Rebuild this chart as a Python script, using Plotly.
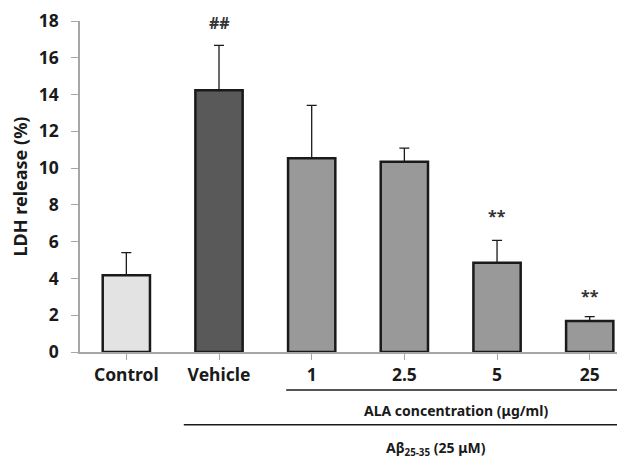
import plotly.graph_objects as go

categories = ["Control", "Vehicle", "1", "2.5", "5", "25"]
ldh_release = [4.17, 14.24, 10.53, 10.34, 4.85, 1.68]
ldh_error = [1.23, 2.43, 2.88, 0.75, 1.22, 0.24]
bar_colors = ["#e3e3e3", "#595959", "#999999", "#999999", "#999999", "#999999"]
significance = ["", "##", "", "", "**", "**"]
sig_y = [0, 17.9, 0, 0, 7.4, 3.05]
y_ticks = list(range(0, 19, 2))

FONT = "Noto Sans"

fig = go.Figure()
fig.add_trace(go.Bar(
    x=list(range(len(categories))),
    y=ldh_release,
    width=0.51,
    marker=dict(color=bar_colors, line=dict(color="#1a1a1a", width=2.5)),
    error_y=dict(type="data", array=ldh_error, arrayminus=[0] * len(ldh_error),
                 symmetric=False, color="#1a1a1a", thickness=1.3, width=5),
    showlegend=False,
))

for i, s in enumerate(significance):
    if s:
        fig.add_annotation(x=i, y=sig_y[i], text=f"<b>{s}</b>", showarrow=False,
                           font=dict(family=FONT, size=16, color="#333333"),
                           xref="x", yref="y")

# group labels below axis
fig.add_shape(type="line", xref="x", yref="paper", x0=1.725, x1=5.6, y0=-0.115, y1=-0.115,
              line=dict(color="#555555", width=2))
fig.add_annotation(x=3.56, y=-0.178, xref="x", yref="paper", showarrow=False, yanchor="middle",
                   text="<b>ALA concentration (μg/ml)</b>",
                   font=dict(family=FONT, size=14, color="#1a1a1a"))
fig.add_shape(type="line", xref="x", yref="paper", x0=0.62, x1=5.6, y0=-0.22, y1=-0.22,
              line=dict(color="#1a1a1a", width=1.5))
fig.add_annotation(x=3.34, y=-0.292, xref="x", yref="paper", showarrow=False, yanchor="middle",
                   text="<b>Aβ<sub>25-35</sub> (25 μM)</b>",
                   font=dict(family=FONT, size=14, color="#1a1a1a"))

fig.update_layout(
    width=625, height=459,
    margin=dict(l=72, r=0, t=13, b=115, autoexpand=False),
    plot_bgcolor="white", paper_bgcolor="white",
    font=dict(family=FONT, color="#1a1a1a"),
    xaxis=dict(
        range=[-0.5, 5.467], automargin=False,
        tickmode="array", tickvals=list(range(len(categories))),
        ticktext=[f"<b>{c}</b>" for c in categories],
        tickfont=dict(family=FONT, size=17.5, color="#1a1a1a"),
        showline=True, linecolor="#a6a6a6", linewidth=1.5,
        ticks="outside", tickson="boundaries", ticklen=6, tickcolor="#a6a6a6",
        showgrid=False, zeroline=False,
    ),
    yaxis=dict(
        range=[0, 18], automargin=False,
        tickmode="array", tickvals=y_ticks,
        ticktext=[f"<b>{v}</b>" for v in y_ticks],
        tickfont=dict(family=FONT, size=17.5, color="#1a1a1a"),
        ticklabelstandoff=9,
        showline=True, linecolor="#a6a6a6", linewidth=1.5,
        ticks="outside", ticklen=7, tickcolor="#a6a6a6",
        showgrid=False, zeroline=False,
        title=dict(text="<b>LDH release (%)</b>", font=dict(family=FONT, size=18, color="#1a1a1a"),
                   standoff=14),
    ),
)

fig.write_html("out.html")
